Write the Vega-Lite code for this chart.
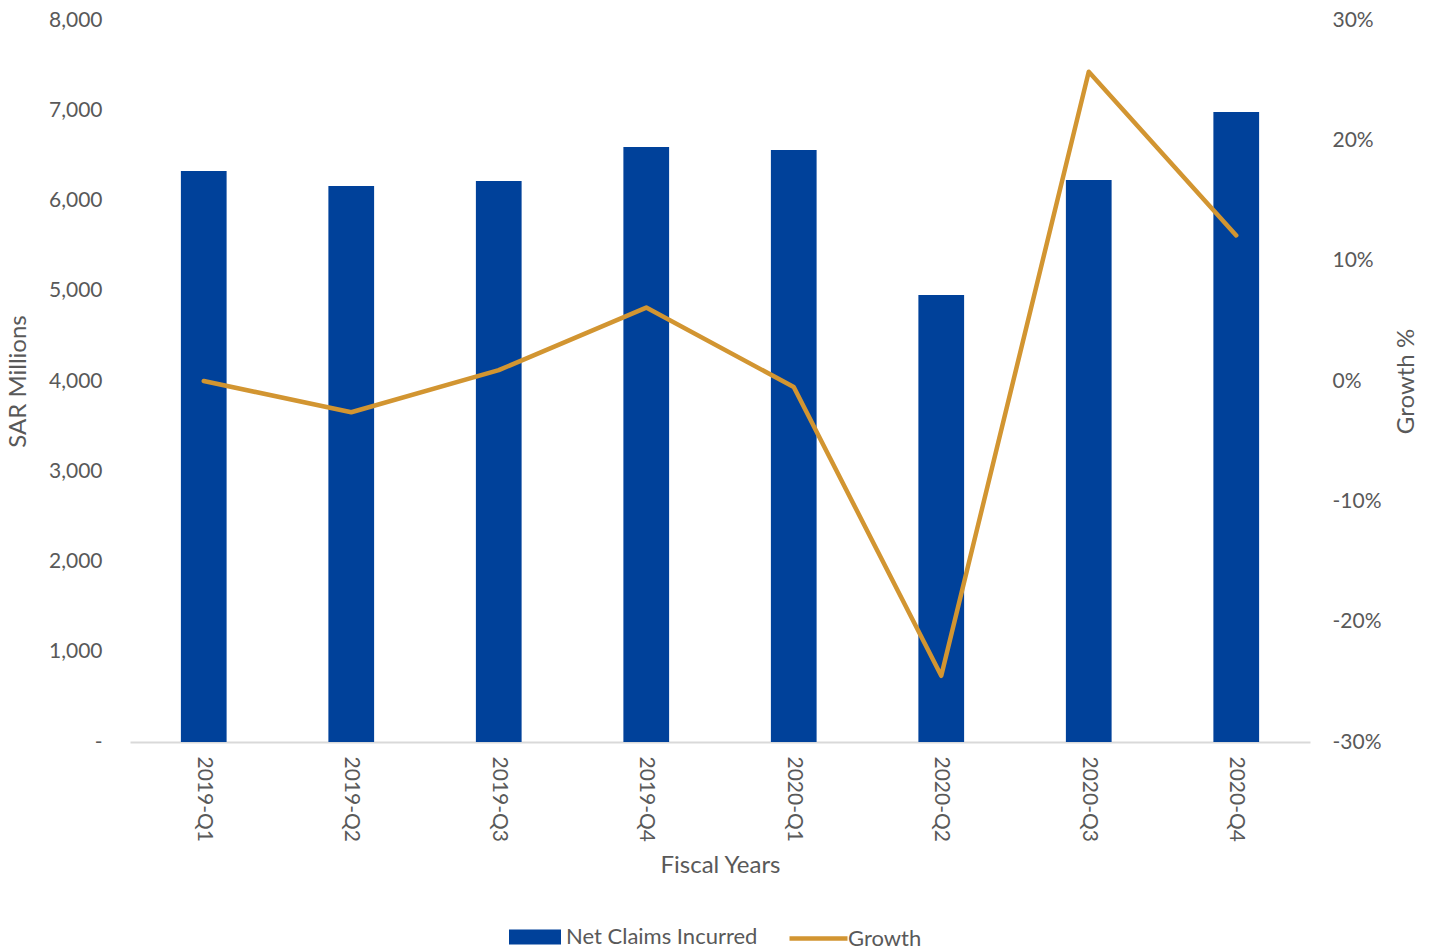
{
  "$schema": "https://vega.github.io/schema/vega-lite/v6.json",
  "autosize": {"type": "none"},
  "width": 1180,
  "height": 722,
  "padding": {"left": 130, "top": 20, "right": 121, "bottom": 209},
  "background": "white",
  "config": {
    "font": "Lato",
    "view": {"stroke": null},
    "axis": {"labelFont": "Lato", "titleFont": "Lato", "labelColor": "#595959", "titleColor": "#595959", "labelFontSize": 21, "titleFontSize": 24, "titleFontWeight": "normal", "grid": false, "ticks": false},
    "legend": {"labelFont": "Lato", "labelColor": "#595959", "labelFontSize": 22, "labelLimit": 0}
  },
  "data": {
    "values": [
      {"q": "2019-Q1", "claims": 6327, "growth": 0.0},
      {"q": "2019-Q2", "claims": 6160, "growth": -0.026},
      {"q": "2019-Q3", "claims": 6216, "growth": 0.009},
      {"q": "2019-Q4", "claims": 6593, "growth": 0.061},
      {"q": "2020-Q1", "claims": 6560, "growth": -0.005},
      {"q": "2020-Q2", "claims": 4953, "growth": -0.245},
      {"q": "2020-Q3", "claims": 6227, "growth": 0.257},
      {"q": "2020-Q4", "claims": 6981, "growth": 0.121}
    ]
  },
  "encoding": {
    "x": {
      "field": "q", "type": "nominal", "sort": null,
      "scale": {"paddingInner": 0.69, "paddingOuter": 0.345},
      "axis": {"title": "Fiscal Years", "labelAngle": 90, "labelPadding": 14, "titlePadding": 12, "domainColor": "#d9d9d9", "domainWidth": 2}
    }
  },
  "layer": [
    {
      "mark": {"type": "bar", "color": "#00419A"},
      "encoding": {
        "y": {
          "field": "claims", "type": "quantitative",
          "scale": {"domain": [0, 8000], "nice": false},
          "axis": {"title": "SAR Millions", "values": [0, 1000, 2000, 3000, 4000, 5000, 6000, 7000, 8000], "labelExpr": "datum.value == 0 ? '-' : format(datum.value, ',')", "labelPadding": 28, "titlePadding": 18, "domain": false}
        },
        "fill": {
          "datum": "Net Claims Incurred",
          "scale": {"range": ["#00419A"]},
          "legend": {"title": null, "orient": "none", "legendX": 379, "legendY": 891, "symbolType": "M-1,-0.29L1,-0.29L1,0.29L-1,0.29Z", "symbolSize": 2704, "symbolStrokeWidth": 0, "labelOffset": 5}
        }
      }
    },
    {
      "mark": {"type": "line", "strokeWidth": 4.5, "strokeCap": "round", "strokeJoin": "round"},
      "encoding": {
        "y": {
          "field": "growth", "type": "quantitative",
          "scale": {"domain": [-0.3, 0.3], "nice": false},
          "axis": {"orient": "right", "title": "Growth %", "titleAngle": -90, "values": [-0.3, -0.2, -0.1, 0, 0.1, 0.2, 0.3], "labelExpr": "round(datum.value * 100) + '%'", "labelPadding": 22, "titlePadding": 38, "domain": false}
        },
        "stroke": {
          "datum": "Growth",
          "scale": {"range": ["#D29531"]},
          "legend": {"title": null, "orient": "none", "legendX": 657, "legendY": 887, "symbolType": "stroke", "symbolSize": 3364, "symbolStrokeWidth": 4.5, "labelOffset": -2}
        }
      }
    }
  ],
  "resolve": {"scale": {"y": "independent", "fill": "independent", "stroke": "independent"}}
}
